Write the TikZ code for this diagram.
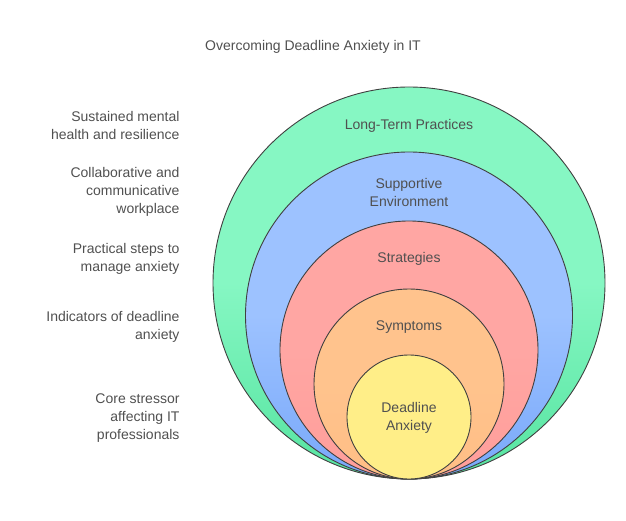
\documentclass[tikz,border=0pt]{standalone}
\usepackage{fontspec}
\setmainfont{Liberation Sans}
\definecolor{ringgreen}{HTML}{86F7C3}
\definecolor{ringgreenb}{HTML}{55E4A0}
\definecolor{ringblue}{HTML}{9DC2FF}
\definecolor{ringblueb}{HTML}{78A8FA}
\definecolor{ringred}{HTML}{FFA6A3}
\definecolor{ringredb}{HTML}{FF9E9A}
\definecolor{ringorange}{HTML}{FFC38D}
\definecolor{ringorangeb}{HTML}{FFBE85}
\definecolor{ringyellow}{HTML}{FFEE88}
\definecolor{txtgray}{HTML}{505050}
\tikzset{
  ring/.style={draw=black!75, line width=0.9pt},
  lbl/.style={text=txtgray, font=\fontsize{14}{18}\selectfont, align=center},
  side/.style={text=txtgray, font=\fontsize{14}{18}\selectfont, align=right, anchor=east}
}
\begin{document}
\begin{tikzpicture}[x=1pt,y=-1pt]
  \useasboundingbox (0,0) rectangle (626,521);
  \node[lbl] (title) at (313,47) {Overcoming Deadline Anxiety in IT};
  % nested rings, all touching at the bottom
  \foreach \r/\c/\b in {196/ringgreen/ringgreenb, 163.5/ringblue/ringblueb, 129/ringred/ringredb, 95/ringorange/ringorangeb, 62/ringyellow/ringyellow}
    \draw[ring, top color=\c, bottom color=\b, middle color=\c] (409,479-\r) circle (\r);
  \node[lbl] (longterm) at (409,126) {Long-Term Practices};
  \node[lbl] (support) at (409,192) {Supportive\\Environment};
  \node[lbl] (strat) at (409,259) {Strategies};
  \node[lbl] (sympt) at (409,327) {Symptoms};
  \node[lbl] (anx) at (409,418) {Deadline\\Anxiety};
  % descriptions
  \node[side] (dlongterm) at (183,125) {Sustained mental\\health and resilience};
  \node[side] (dsupport) at (183,192) {Collaborative and\\communicative\\workplace};
  \node[side] (dstrat) at (183,259) {Practical steps to\\manage anxiety};
  \node[side] (dsympt) at (183,327) {Indicators of deadline\\anxiety};
  \node[side] (danx) at (183,418) {Core stressor\\affecting IT\\professionals};
\end{tikzpicture}
\end{document}
